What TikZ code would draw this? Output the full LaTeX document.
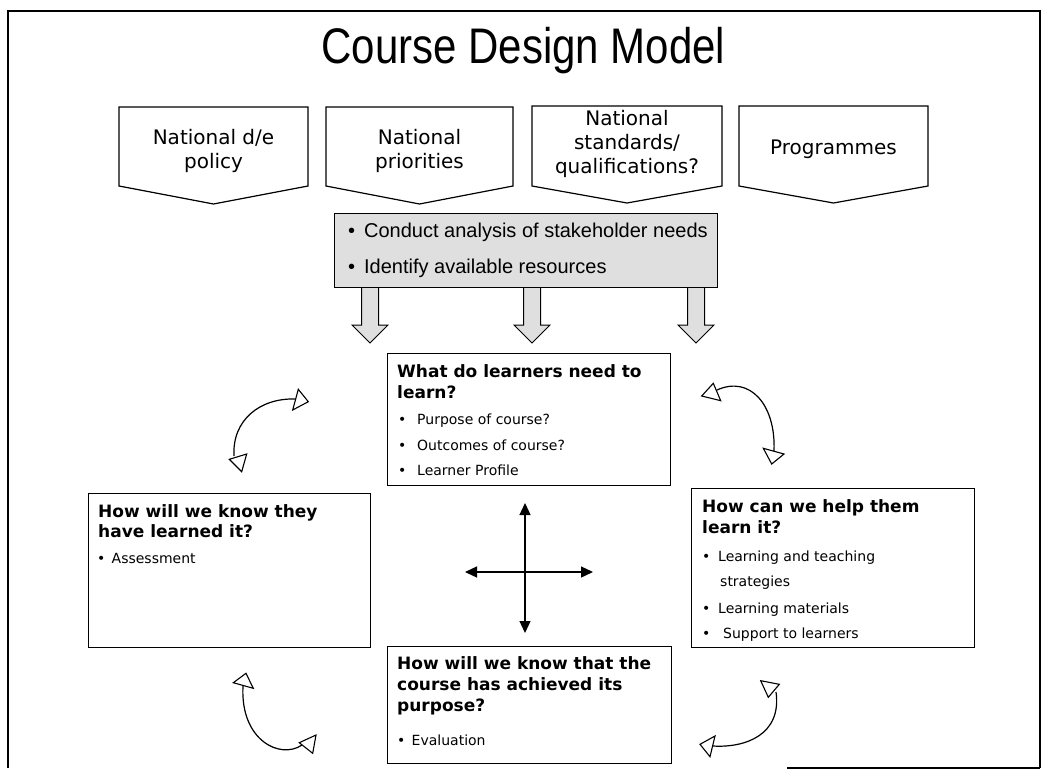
\documentclass[tikz,border=0pt]{standalone}
\usepackage{fontspec}
\setmainfont{DejaVu Sans}
\newfontfamily\arialfont{Liberation Sans}
\newfontfamily\titlefont[FakeStretch=0.84]{Liberation Sans}
\usetikzlibrary{arrows.meta}
\begin{document}
\begin{tikzpicture}[x=1pt,y=-1pt,
  frameline/.style={line width=1.2pt},
  boxframe/.style={draw, line width=1.3pt, fill=white},
  pent/.style={draw, line width=1.2pt, fill=white, line join=miter},
  penttext/.style={font=\fontsize{20}{24}\selectfont, align=center, inner sep=0pt},
  ttl/.style={font=\fontsize{17}{21}\selectfont\bfseries, anchor=base west, inner sep=0pt},
  itm/.style={font=\fontsize{14}{17}\selectfont, anchor=base west, inner sep=0pt},
  greyitm/.style={font=\arialfont\fontsize{20}{24}\selectfont, anchor=base west, inner sep=0pt},
  hollowtip/.style={draw, line width=1.1pt, fill=white, line join=miter},
  blockarrow/.style={draw, line width=1pt, fill=gray!25, line join=miter},
  curve/.style={draw, line width=1.2pt},
  crossarrow/.style={draw, line width=1.3pt, -{Triangle[length=12pt,width=11pt]}}
]
\useasboundingbox (0,0) rectangle (1049,779);

% outer frame
\draw[frameline] (8,768) -- (8,11) -- (1040,11) -- (1040,768);
\draw[frameline] (787,768) -- (1040,768);

% title
\node[font=\titlefont\fontsize{50}{56}\selectfont, anchor=base, inner sep=0pt] (title) at (523.5,63) {Course Design Model};

% pentagons
\draw[pent] (119,107) -- (308,107) -- (308,186) -- (213.5,204) -- (119,186) -- cycle;
\draw[pent] (326,107) -- (513,107) -- (513,186) -- (419.5,204) -- (326,186) -- cycle;
\draw[pent] (532,106) -- (722,106) -- (722,186) -- (627,203) -- (532,186) -- cycle;
\draw[pent] (739,106) -- (928,106) -- (928,186) -- (833.5,203) -- (739,186) -- cycle;
\node[penttext] (p1) at (213.5,151) {National d/e\\policy};
\node[penttext] (p2) at (419.5,151) {National\\priorities};
\node[penttext] (p3) at (627,144) {National\\standards/\\qualifications?};
\node[penttext] (p4) at (833.5,149) {Programmes};

% block arrows
\foreach \cx in {370,532,696}{
  \draw[blockarrow] (\cx-8.5,284) -- (\cx+8.5,284) -- (\cx+8.5,325) -- (\cx+18,325)
     -- (\cx,343) -- (\cx-18,325) -- (\cx-8.5,325) -- cycle;
}

% grey analysis box
\node[draw, line width=1.3pt, fill=gray!25, minimum width=383pt, minimum height=74pt, anchor=north west, inner sep=0pt] (needs) at (334,213) {};
\node[greyitm] (n1) at (348,237) {\makebox[16pt][l]{•}Conduct analysis of stakeholder needs};
\node[greyitm] (n2) at (348,273) {\makebox[16pt][l]{•}Identify available resources};

% centre box
\node[boxframe, minimum width=283pt, minimum height=132pt, anchor=north west, inner sep=0pt] (learn) at (387,353) {};
\node[ttl] (l1) at (397,377) {What do learners need to};
\node[ttl] (l2) at (397,398) {learn?};
\node[itm] (l3) at (398,424) {\makebox[19pt][l]{•}Purpose of course?};
\node[itm] (l4) at (398,450) {\makebox[19pt][l]{•}Outcomes of course?};
\node[itm] (l5) at (398,475) {\makebox[19pt][l]{•}Learner Profile};

% left box
\node[boxframe, minimum width=282pt, minimum height=154pt, anchor=north west, inner sep=0pt] (assess) at (88,493) {};
\node[ttl] (a1) at (98,517) {How will we know they};
\node[ttl] (a2) at (98,537) {have learned it?};
\node[itm] (a3) at (97,563) {\makebox[14.5pt][l]{•}Assessment};

% right box
\node[boxframe, minimum width=283pt, minimum height=159pt, anchor=north west, inner sep=0pt] (help) at (691,488) {};
\node[ttl] (h1) at (702,512) {How can we help them};
\node[ttl] (h2) at (702,533) {learn it?};
\node[itm] (h3) at (702,561) {\makebox[16pt][l]{•}Learning and teaching};
\node[itm] (h4) at (720,586) {strategies};
\node[itm] (h5) at (702,613) {\makebox[16pt][l]{•}Learning materials};
\node[itm] (h6) at (702,638) {\makebox[21pt][l]{•}Support to learners};

% bottom box
\node[boxframe, minimum width=284pt, minimum height=117pt, anchor=north west, inner sep=0pt] (eval) at (387,646) {};
\node[ttl] (e1) at (397,669) {How will we know that the};
\node[ttl] (e2) at (397,690) {course has achieved its};
\node[ttl] (e3) at (397,711) {purpose?};
\node[itm] (e4) at (397,745) {\makebox[14.5pt][l]{•}Evaluation};

% central cross
\coordinate (cmid) at (525,572);
\coordinate (ctop) at (525,503);
\coordinate (cbot) at (525,633);
\coordinate (cleft) at (465,572);
\coordinate (cright) at (593,572);
\draw[crossarrow] (cmid) -- (ctop);
\draw[crossarrow] (cmid) -- (cbot);
\draw[crossarrow] (cmid) -- (cleft);
\draw[crossarrow] (cmid) -- (cright);

% curved arrow upper left
\draw[curve] (295,399) .. controls (260,398) and (232,420) .. (234,456);
\draw[hollowtip] (298.3,389.3) -- (292.7,410) -- (308.3,401.7) -- cycle;
\draw[hollowtip] (229.3,459.3) -- (246.7,454) -- (241.7,471.7) -- cycle;

% curved arrow upper right
\draw[curve] (717,390) .. controls (750,375) and (776,405) .. (774,451);
\draw[hollowtip] (713.3,383.3) -- (701.7,396) -- (720.7,400.7) -- cycle;
\draw[hollowtip] (763.3,448.3) -- (784,454) -- (771.7,464) -- cycle;

% curved arrow lower left
\draw[curve] (243,686) .. controls (240,740) and (280,760) .. (302,745);
\draw[hollowtip] (233.3,682.7) -- (246,673.3) -- (253.3,688.3) -- cycle;
\draw[hollowtip] (299.3,742.7) -- (316,735) -- (312.7,753.3) -- cycle;

% curved arrow lower right
\draw[curve] (776,692) .. controls (782,735) and (745,748) .. (713,746);
\draw[hollowtip] (760.7,680.7) -- (779.3,684.3) -- (768.3,697.3) -- cycle;
\draw[hollowtip] (700,744.3) -- (715,736) -- (710,756.7) -- cycle;
\end{tikzpicture}
\end{document}
